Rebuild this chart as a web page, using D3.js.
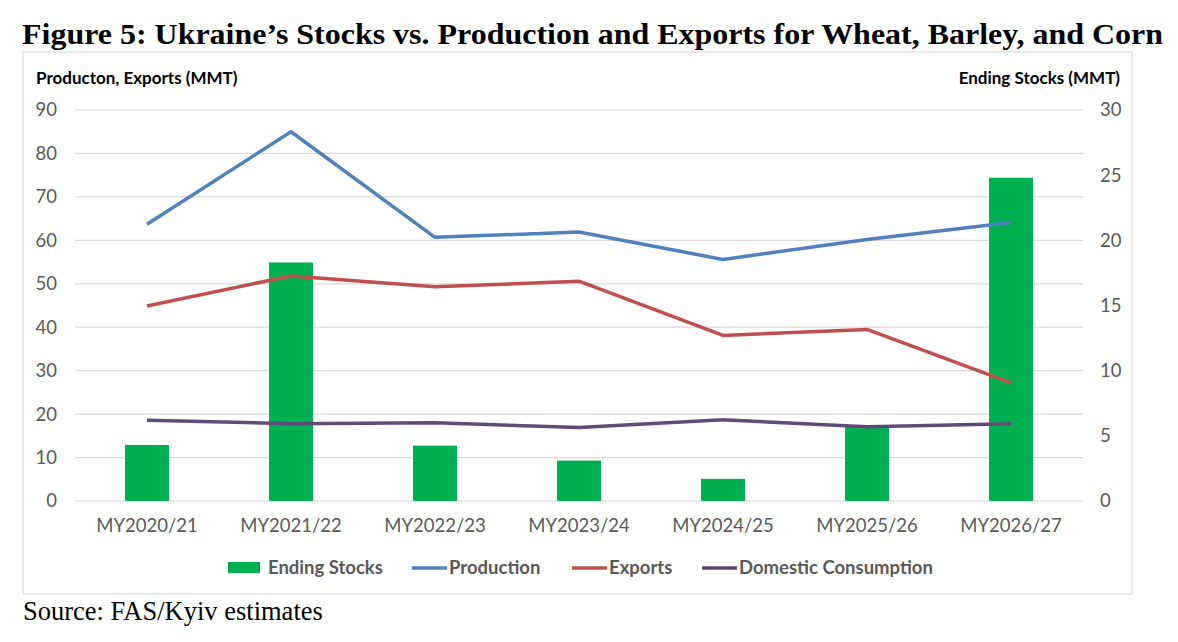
<!DOCTYPE html>
<html><head><meta charset="utf-8">
<script src="https://cdn.jsdelivr.net/npm/d3@7"></script>
<style>body{margin:0;background:#fff}svg{display:block}</style>
</head><body>
<svg id="c" width="1178" height="642"></svg>
<script>
const categories = ["MY2020/21","MY2021/22","MY2022/23","MY2023/24","MY2024/25","MY2025/26","MY2026/27"];
const endingStocks = [4.3, 18.3, 4.25, 3.1, 1.7, 5.7, 24.8];
const production = [63.7, 85.0, 60.7, 61.9, 55.6, 60.2, 64.1];
const exportsV = [44.9, 51.8, 49.3, 50.6, 38.1, 39.5, 27.2];
const domestic = [18.6, 17.8, 18.0, 16.9, 18.7, 17.1, 17.8];
const leftTicks = [0,10,20,30,40,50,60,70,80,90];
const rightTicks = [0,5,10,15,20,25,30];

const svg = d3.select("#c");
const font = "Lato, 'Open Sans', sans-serif";
const serif = "'Liberation Serif', 'Times New Roman', serif";

svg.append("text").attr("x",22).attr("y",44)
  .attr("font-family",serif).attr("font-weight","bold").attr("font-size",28.5)
  .attr("textLength",1141).attr("lengthAdjust","spacingAndGlyphs")
  .attr("fill","#000").text("Figure 5: Ukraine\u2019s Stocks vs. Production and Exports for Wheat, Barley, and Corn");

svg.append("rect").attr("x",23).attr("y",52).attr("width",1109).attr("height",542)
  .attr("fill","#fff").attr("stroke","#d9d9d9").attr("stroke-width",1.2);

const x = d3.scaleBand().domain(categories).range([75,1083]).paddingInner(0.694).paddingOuter(0.347);
const yL = d3.scaleLinear().domain([0,90]).range([501,110]);
const yR = d3.scaleLinear().domain([0,30]).range([501,110]);

// gridlines
svg.append("g").selectAll("line").data(leftTicks).join("line")
  .attr("x1",75).attr("x2",1083).attr("y1",d=>yL(d)).attr("y2",d=>yL(d))
  .attr("stroke","#d9d9d9").attr("stroke-width",1.2);

// axes
const axL = svg.append("g").attr("transform","translate(75,0)")
  .call(d3.axisLeft(yL).tickValues(leftTicks).tickSize(0).tickPadding(18));
const axR = svg.append("g").attr("transform","translate(1083,0)")
  .call(d3.axisRight(yR).tickValues(rightTicks).tickSize(0).tickPadding(17));
const axB = svg.append("g").attr("transform","translate(0,501)")
  .call(d3.axisBottom(x).tickSize(0).tickPadding(18));
[axL,axR,axB].forEach(a=>{
  a.select(".domain").remove();
  a.selectAll("text").attr("font-family",font).attr("font-size",18.5).attr("fill","#595959");
});

// bars
svg.append("g").selectAll("rect").data(endingStocks).join("rect")
  .attr("x",(d,i)=>x(categories[i])).attr("width",x.bandwidth())
  .attr("y",d=>yR(d)).attr("height",d=>yR(0)-yR(d)).attr("fill","#00B050");

const cx = c => x(c)+x.bandwidth()/2;
const series = [
  {name:"Production", vals:production, color:"#4F81BD"},
  {name:"Exports", vals:exportsV, color:"#C0504D"},
  {name:"Domestic Consumption", vals:domestic, color:"#604A7B"}
];
const line = d3.line().x((d,i)=>cx(categories[i])).y(d=>yL(d));
series.forEach(s=>{
  svg.append("path").datum(s.vals).attr("d",line).attr("fill","none")
    .attr("stroke",s.color).attr("stroke-width",3.5).attr("stroke-linejoin","round");
});

// axis titles
svg.append("text").attr("x",36).attr("y",84).attr("font-family",font).attr("font-weight","bold")
  .attr("font-size",17).attr("fill","#000").text("Producton, Exports (MMT)");
svg.append("text").attr("x",1120).attr("y",84).attr("text-anchor","end").attr("font-family",font).attr("font-weight","bold")
  .attr("font-size",17).attr("fill","#000").text("Ending Stocks (MMT)");

// legend
const lg = svg.append("g").attr("font-family",font).attr("font-size",18.5).attr("font-weight","bold").attr("fill","#595959");
const legendItems = [
  {name:"Ending Stocks", type:"rect", color:"#00B050", x:228},
  {name:"Production", type:"line", color:"#4F81BD", x:412},
  {name:"Exports", type:"line", color:"#C0504D", x:572},
  {name:"Domestic Consumption", type:"line", color:"#604A7B", x:702}
];
legendItems.forEach(it=>{
  if(it.type==="rect"){
    lg.append("rect").attr("x",it.x).attr("y",562).attr("width",32).attr("height",11).attr("fill",it.color);
    lg.append("text").attr("x",it.x+40).attr("y",574).text(it.name);
  } else {
    lg.append("line").attr("x1",it.x).attr("x2",it.x+35).attr("y1",568).attr("y2",568)
      .attr("stroke",it.color).attr("stroke-width",3.5);
    lg.append("text").attr("x",it.x+37).attr("y",574).text(it.name);
  }
});

svg.append("text").attr("x",23).attr("y",620).attr("font-family",serif).attr("font-size",26.5)
  .attr("fill","#000").text("Source: FAS/Kyiv estimates");
</script>
</body></html>
